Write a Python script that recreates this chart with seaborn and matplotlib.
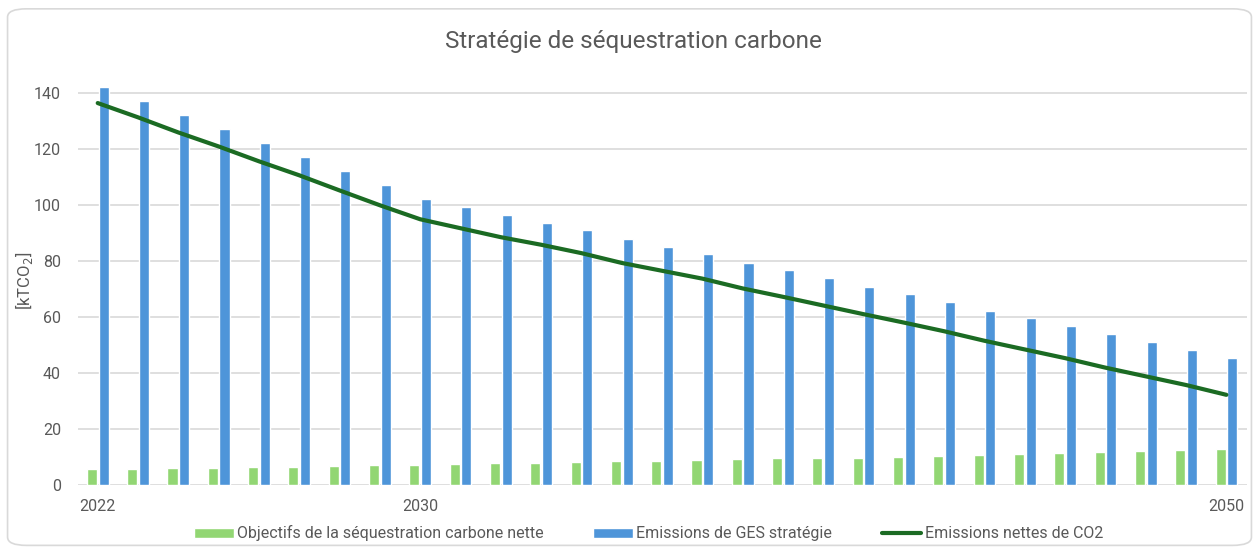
import pandas as pd
import seaborn as sns
import matplotlib.pyplot as plt
from matplotlib.patches import FancyBboxPatch

# donnees
annees = list(range(2022, 2051))
sequestration = [5.7, 5.7, 6.1, 6.1, 6.4, 6.4, 6.8, 7.1, 7.1, 7.5, 7.9, 7.9, 8.2, 8.6, 8.6,
                 8.8, 9.2, 9.5, 9.8, 9.8, 10.1, 10.5, 10.8, 11.2, 11.5, 11.9, 12.3, 12.6, 13.0]
emissions_ges = [142.1, 137.0, 132.0, 127.0, 122.0, 117.0, 112.0, 107.0, 102.0, 99.2, 96.4,
                 93.7, 91.0, 87.9, 85.1, 82.5, 79.4, 76.7, 73.9, 70.8, 68.1, 65.4, 62.3, 59.6,
                 56.8, 53.8, 51.1, 48.3, 45.2]
emissions_nettes = [136.4, 131.3, 125.9, 120.9, 115.6, 110.6, 105.2, 99.9, 94.9, 91.7, 88.5,
                    85.8, 82.8, 79.3, 76.5, 73.7, 70.2, 67.2, 64.1, 61.0, 58.0, 54.9, 51.5,
                    48.4, 45.3, 41.9, 38.8, 35.7, 32.2]
labels_x = ["2022", "2030", "2050"]

serie_seq = "Objectifs de la séquestration carbone nette"
serie_ges = "Emissions de GES stratégie"
serie_net = "Emissions nettes de CO2"

df = pd.DataFrame({"annee": annees, serie_seq: sequestration, serie_ges: emissions_ges})
df = df.melt(id_vars="annee", var_name="serie", value_name="valeur")

sns.set_style("white")
plt.rcParams["font.family"] = ["Roboto", "DejaVu Sans"]
gris = "#595959"

fig = plt.figure(figsize=(12.59, 5.52), dpi=100)
fig.patches.append(FancyBboxPatch((0.006, 0.012), 0.988, 0.972, boxstyle="round,pad=0,rounding_size=0.015",
                                  transform=fig.transFigure, facecolor="white", edgecolor="#D9D9D9",
                                  linewidth=1.2, zorder=-1))
ax = fig.add_axes([0.0616, 0.1214, 0.9285, 0.7406])
ax.set_facecolor("none")

sns.barplot(data=df, x="annee", y="valeur", hue="serie", palette=["#92D673", "#4E95D9"],
            width=0.58, gap=0.14, ax=ax, saturation=1, legend=True)
sns.lineplot(x=list(range(len(annees))), y=emissions_nettes, color="#1B6B23", linewidth=3.0,
             ax=ax, label=serie_net)

ax.set_ylim(0, 146)
ax.set_yticks(range(0, 141, 20))
ax.set_xlim(-0.5, len(annees) - 0.5)
ax.set_xticks(range(len(annees)))
ax.set_xticklabels([str(a) if str(a) in labels_x else "" for a in annees])
ax.tick_params(axis="both", length=0, labelsize=11.5, labelcolor=gris)
ax.tick_params(axis="y", pad=12)
ax.tick_params(axis="x", pad=10)
ax.grid(axis="y", color="#D9D9D9", linewidth=1.2)
ax.set_axisbelow(True)
for s in ax.spines.values():
    s.set_visible(False)

ax.set_xlabel("")
ax.set_ylabel("[kTCO$_2$]", fontsize=12, color=gris)
ax.yaxis.set_label_coords(-0.036, 0.5)

fig.text(0.503, 0.925, "Stratégie de séquestration carbone", ha="center", va="center",
         fontsize=17.5, color=gris)

handles, labels = ax.get_legend_handles_labels()
ax.get_legend().remove()
fig.legend(handles, labels, loc="center", bbox_to_anchor=(0.515, 0.034), ncol=3, frameon=False,
           fontsize=11.5, labelcolor=gris, handlelength=2.5, handleheight=0.6, handletextpad=0.2,
           columnspacing=3.1)

fig.savefig("out.png", dpi=100)
